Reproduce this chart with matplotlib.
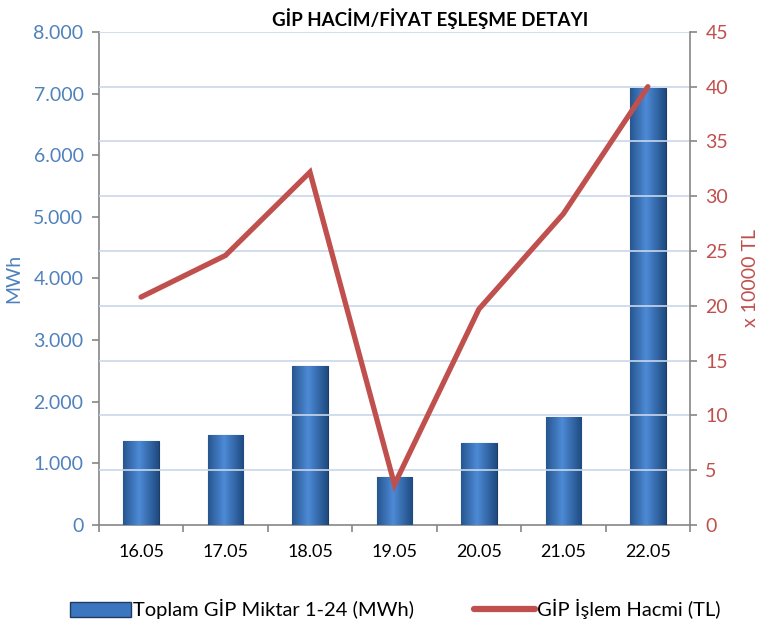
import matplotlib
matplotlib.use("Agg")
import matplotlib.pyplot as plt
import numpy as np
from matplotlib.ticker import FuncFormatter, MultipleLocator, FixedLocator
from matplotlib.lines import Line2D
from matplotlib.patches import Patch
from matplotlib.colors import LinearSegmentedColormap

plt.rcParams['font.family'] = ['Lato', 'DejaVu Sans']

categories = ["16.05", "17.05", "18.05", "19.05", "20.05", "21.05", "22.05"]
volume_mwh = [1364, 1461, 2586, 779, 1326, 1748, 7083]
trade_10000tl = [20.8, 24.6, 32.2, 3.7, 19.7, 28.4, 40.0]

bar_label = "Toplam GİP Miktar 1-24 (MWh)"
line_label = "GİP İşlem Hacmi (TL)"
title = "GİP HACİM/FİYAT EŞLEŞME DETAYI"

BLUE = "#4F81BD"
RED = "#C0504D"
GRID = "#C9D7EA"
SPINE = "#868686"

fig = plt.figure(figsize=(7.6, 6.25), dpi=100)
ax = fig.add_axes([0.130, 0.16, 0.778, 0.789])
ax2 = ax.twinx()

x = np.arange(len(categories))
bars = ax.bar(x, volume_mwh, width=0.42, color="#3C76BE", edgecolor="#1F3C64",
              linewidth=0.8, zorder=3)

# gradient shading on bars
grad = np.linspace(0, 1, 256)
shade = np.vstack([1 - np.abs(grad - 0.45) * 1.3] * 2)
cmap = LinearSegmentedColormap.from_list("b", ["#1E4A80", "#4D8AD6"])
for b in bars:
    bx, by = b.get_x(), b.get_y()
    w, h = b.get_width(), b.get_height()
    im = ax.imshow(shade, extent=[bx, bx + w, by, by + h], aspect="auto",
                   cmap=cmap, zorder=3.5, origin="lower")
    im.set_clip_path(b)

ax.set_xlim(-0.5, len(categories) - 0.5)
ax.set_ylim(0, 8000)
ax.yaxis.set_major_locator(MultipleLocator(1000))
ax.yaxis.set_major_formatter(FuncFormatter(lambda v, p: f"{int(v):,}".replace(",", ".")))
ax.set_xticks(x)
ax.set_xticklabels(categories, fontsize=13, color="black")
ax.tick_params(axis="x", length=0, pad=14)
ax.xaxis.set_minor_locator(FixedLocator(np.arange(-0.5, len(categories) + 0.5, 1)))
ax.tick_params(axis="x", which="minor", length=5, color=SPINE, width=1.2)
ax.tick_params(axis="y", labelsize=14, labelcolor=BLUE, color=SPINE, length=5, width=1.2, pad=6)
ax.set_ylabel("MWh", color=BLUE, fontsize=14, labelpad=8)

ax2.plot(x, trade_10000tl, color=RED, linewidth=3.8, zorder=5, solid_capstyle="round",
         solid_joinstyle="miter")
ax2.set_ylim(0, 45)
ax2.yaxis.set_major_locator(MultipleLocator(5))
ax2.tick_params(axis="y", labelsize=14, labelcolor=RED, color=SPINE, length=5, width=1.2, pad=6)
ax2.set_ylabel("x 10000 TL", color=RED, fontsize=14, labelpad=10)

# gridlines follow the right axis
for v in np.arange(5, 50, 5):
    ax2.axhline(v, color=GRID, linewidth=1.2, zorder=0)
ax2.set_zorder(2)
ax.set_zorder(1)
ax2.patch.set_visible(False)

for a in (ax, ax2):
    a.spines["top"].set_visible(False)
    for s in ("left", "right", "bottom"):
        a.spines[s].set_color(SPINE)
        a.spines[s].set_linewidth(1.2)
ax.spines["right"].set_visible(False)
ax2.spines["left"].set_visible(False)
ax2.spines["bottom"].set_visible(False)

fig.text(0.566, 0.97, title, ha="center", va="center", fontsize=13.5, fontweight="bold")

handles = [Patch(facecolor="#3C76BE", edgecolor="#1F3C64", label=bar_label),
           Line2D([0], [0], color=RED, linewidth=4.5, solid_capstyle="round", label=line_label)]
fig.legend(handles=handles, loc="center", bbox_to_anchor=(0.52, 0.025), ncol=2,
           frameon=False, fontsize=14.5, handlelength=3.0, handleheight=0.8,
           handletextpad=0.1, columnspacing=3.0)

fig.savefig("out.png", dpi=100)
